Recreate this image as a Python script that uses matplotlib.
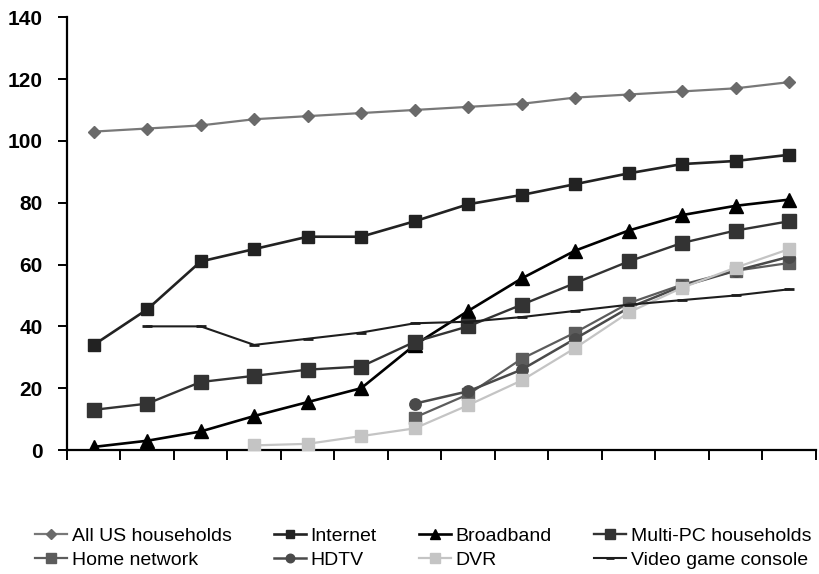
import numpy as np
import matplotlib
matplotlib.use("Agg")
import matplotlib.pyplot as plt

plt.rcParams['font.family'] = ['Liberation Sans', 'DejaVu Sans']

# Fourteen yearly periods (category axis, no labels drawn)
periods = list(range(14))
nan = np.nan

all_us = [103, 104, 105, 107, 108, 109, 110, 111, 112, 114, 115, 116, 117, 119]
internet = [34, 45.5, 61, 65, 69, 69, 74, 79.5, 82.5, 86, 89.5, 92.5, 93.5, 95.5]
broadband = [1, 3, 6, 11, 15.5, 20, 34, 45, 55.5, 64.5, 71, 76, 79, 81]
multi_pc = [13, 15, 22, 24, 26, 27, 35, 40, 47, 54, 61, 67, 71, 74]
home_network = [nan, nan, nan, nan, nan, nan, 10.5, 18, 29.5, 38, 47.5, 53.5, 58, 60.5]
hdtv = [nan, nan, nan, nan, nan, nan, 15, 19, 26, 36, 46, 53, 58, 62.5]
dvr = [nan, nan, nan, 1.5, 2, 4.5, 7, 14.5, 22.5, 33, 44.5, 52.5, 59, 65]
video_console = [nan, 40, 40, 34, 36, 38, 41, 41.5, 43, 45, 47, 48.5, 50, 52]

y_ticks = [0, 20, 40, 60, 80, 100, 120, 140]

fig = plt.figure(figsize=(8.2, 5.74), dpi=100)
ax = fig.add_axes([0.0817, 0.216, 0.9133, 0.754])

x = np.array(periods)
series = [
    ("All US households", all_us, dict(color="#787878", marker="D", ms=6.4, lw=1.6, mfc="#6a6a6a", mec="#6a6a6a")),
    ("Internet", internet, dict(color="#222222", marker="s", ms=8.2, lw=1.9)),
    ("Broadband", broadband, dict(color="#000000", marker="^", ms=9.8, lw=1.9)),
    ("Multi-PC households", multi_pc, dict(color="#333333", marker="s", ms=9.6, lw=1.7)),
    ("Home network", home_network, dict(color="#5c5c5c", marker="s", ms=9.0, lw=1.6)),
    ("HDTV", hdtv, dict(color="#4a4a4a", marker="o", ms=8.2, lw=1.8)),
    ("DVR", dvr, dict(color="#c4c4c4", marker="s", ms=8.8, lw=1.6)),
    ("Video game console", video_console, dict(color="#1e1e1e", marker="_", ms=7, mew=2, lw=1.5)),
]

handles = []
for label, vals, style in series:
    h, = ax.plot(x, vals, label=label, zorder=3, **style)
    handles.append(h)

ax.set_ylim(0, 140)
ax.set_xlim(-0.5, 13.5)
ax.set_yticks(y_ticks)
ax.set_yticklabels([str(v) for v in y_ticks], fontsize=15, fontweight="bold")
ax.set_xticks(np.arange(-0.5, 14.0, 1.0))
ax.set_xticklabels([])

for side in ("top", "right"):
    ax.spines[side].set_visible(False)
for side in ("left", "bottom"):
    ax.spines[side].set_linewidth(1.6)
    ax.spines[side].set_color("black")

ax.tick_params(axis="y", direction="out", length=6.5, width=1.4, pad=11)
ax.tick_params(axis="x", direction="out", length=7, width=1.4)

# Legend: 4 columns in two rows below the plot
order = [0, 4, 1, 5, 2, 6, 3, 7]
fig.legend([handles[i] for i in order], [series[i][0] for i in order],
           ncol=4, loc="center", bbox_to_anchor=(0.516, 0.045),
           frameon=False, fontsize=14, handlelength=1.65, handletextpad=0.25,
           columnspacing=2.15, labelspacing=0.3, borderpad=0, markerscale=0.75)

fig.savefig("out.png", dpi=100)
